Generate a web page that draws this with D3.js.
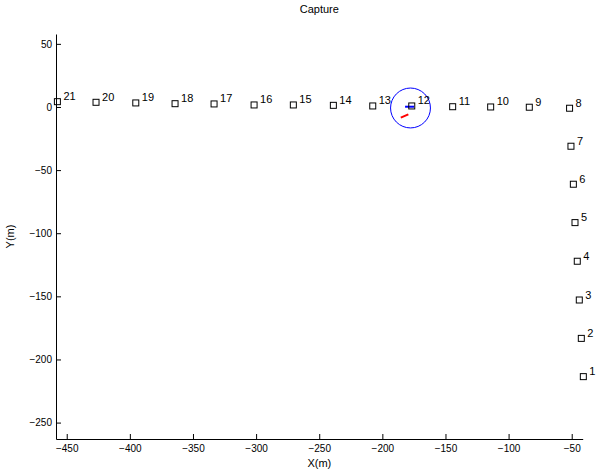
<!DOCTYPE html>
<html>
<head>
<meta charset="utf-8">
<script src="https://cdn.jsdelivr.net/npm/d3@7"></script>
<style>
  html, body { margin: 0; padding: 0; background: #fff; }
  svg { display: block; font-family: "Liberation Sans", Arial, Helvetica, sans-serif; }
</style>
</head>
<body>
<svg id="chart" width="602" height="474"></svg>
<script>
// ---- data ----
const pointIds = [1, 2, 3, 4, 5, 6, 7, 8, 9, 10, 11, 12, 13, 14, 15, 16, 17, 18, 19, 20, 21];
const pointX = [-40.8, -42.4, -44.0, -45.6, -47.4, -48.7, -50.6, -51.7, -83.6, -114.2, -144.3,
                -176.7, -207.6, -238.8, -270.5, -301.6, -333.3, -364.2, -395.3, -426.8, -457.4];
const pointY = [-213.6, -183.3, -152.9, -122.2, -91.6, -61.2, -31.1, -1.0, -0.2, 0.0, 0.2,
                0.8, 0.8, 1.3, 1.6, 1.6, 2.4, 2.6, 3.2, 3.7, 4.2];
const captureCenter = [-177.7, -0.8];
const captureRadius = 15.8;
const blueX = [-182.0, -174.9];
const blueY = [0.2, 0.2];
const redX = [-185.4, -179.4];
const redY = [-8.5, -5.8];
const xTicks = [-450, -400, -350, -300, -250, -200, -150, -100, -50];
const yTicks = [-250, -200, -150, -100, -50, 0, 50];
const xDomain = [-458.5, -41.3];
const yDomain = [-263.0, 57.8];
const titleText = "Capture";
const xLabel = "X(m)";
const yLabel = "Y(m)";

// ---- layout ----
const mLeft = 56, mRight = 582.7, mTop = 34, mBottom = 439;
const svg = d3.select("#chart");
const x = d3.scaleLinear().domain(xDomain).range([mLeft, mRight]);
const y = d3.scaleLinear().domain(yDomain).range([mBottom, mTop]);
const fmt = d => (d < 0 ? "\u2212" + Math.abs(d) : String(d));

const xAxis = svg.append("g")
  .attr("transform", `translate(0,${mBottom})`)
  .call(d3.axisBottom(x).tickValues(xTicks).tickFormat(fmt)
        .tickSizeInner(-5).tickSizeOuter(0).tickPadding(6));
const yAxis = svg.append("g")
  .attr("transform", `translate(${mLeft},0)`)
  .call(d3.axisLeft(y).tickValues(yTicks).tickFormat(fmt)
        .tickSizeInner(-5).tickSizeOuter(0).tickPadding(4));
[xAxis, yAxis].forEach(g => {
  g.attr("font-family", null).attr("font-size", 10);
  g.selectAll("path, line").attr("stroke", "#000");
  g.selectAll("text").attr("fill", "#000");
});

// title and labels
svg.append("text").attr("x", (mLeft + mRight) / 2).attr("y", 13)
  .attr("text-anchor", "middle").attr("font-size", 11).text(titleText);
svg.append("text").attr("x", (mLeft + mRight) / 2).attr("y", 467)
  .attr("text-anchor", "middle").attr("font-size", 11).text(xLabel);
svg.append("text").attr("transform", `translate(14,${(mTop + mBottom) / 2}) rotate(-90)`)
  .attr("text-anchor", "middle").attr("font-size", 11).text(yLabel);

// capture circle
svg.append("circle")
  .attr("cx", x(captureCenter[0])).attr("cy", y(captureCenter[1]))
  .attr("r", x(captureCenter[0] + captureRadius) - x(captureCenter[0]))
  .attr("fill", "none").attr("stroke", "#0000ff").attr("stroke-width", 1);

const line = d3.line().x(d => x(d[0])).y(d => y(d[1]));
svg.append("path").attr("d", line(blueX.map((v, i) => [v, blueY[i]])))
  .attr("fill", "none").attr("stroke", "#0000ff").attr("stroke-width", 2);
svg.append("path").attr("d", line(redX.map((v, i) => [v, redY[i]])))
  .attr("fill", "none").attr("stroke", "#ff0000").attr("stroke-width", 2);

// markers
const pts = pointIds.map((id, i) => ({ id, x: pointX[i], y: pointY[i] }));
svg.append("g").selectAll("rect").data(pts).join("rect")
  .attr("x", d => x(d.x) - 3).attr("y", d => y(d.y) - 3)
  .attr("width", 6).attr("height", 6)
  .attr("fill", "none").attr("stroke", "#000").attr("stroke-width", 1);
svg.append("g").selectAll("text").data(pts).join("text")
  .attr("x", d => x(d.x) + 6).attr("y", d => y(d.y) - 1.5)
  .attr("font-size", 11).attr("fill", "#000").text(d => d.id);
</script>
</body>
</html>
